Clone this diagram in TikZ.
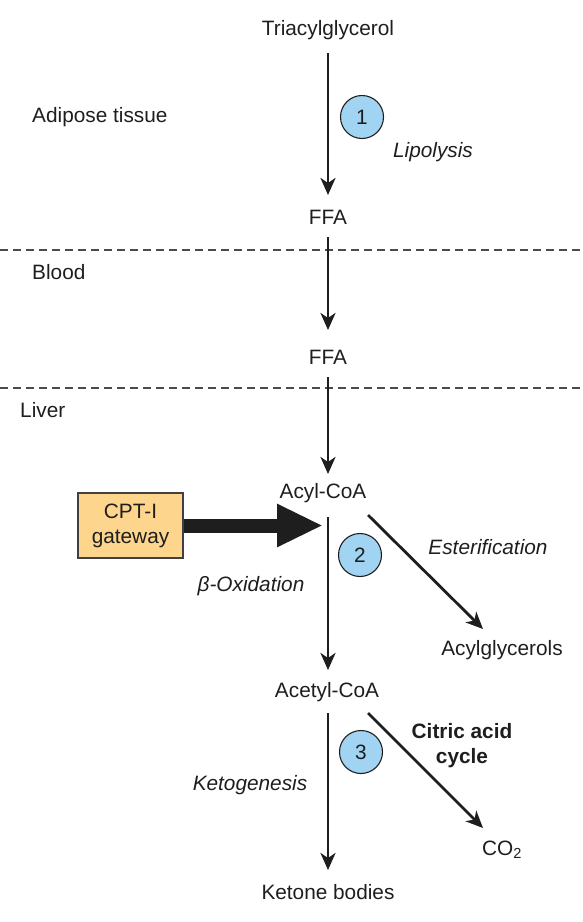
\documentclass[tikz,border=0pt]{standalone}
\usepackage{fontspec}
\setmainfont{Liberation Sans}
\usetikzlibrary{arrows.meta}
\definecolor{circblue}{RGB}{160,212,242}
\definecolor{boxorange}{RGB}{253,213,140}
\definecolor{ink}{RGB}{30,30,30}
\tikzset{
  lbl/.style={font=\fontsize{20.8}{25}\selectfont, inner sep=0pt, text=ink},
  proc/.style={font=\fontsize{20.8}{25}\selectfont\itshape, inner sep=0pt, text=ink},
  num/.style={circle, draw=ink, line width=1.1pt, fill=circblue, minimum size=43pt, inner sep=0pt, font=\fontsize{20.8}{25}\selectfont, text=ink},
  arr/.style={draw=ink, line width=2.8pt, -{Stealth[length=17pt,width=15pt,inset=5pt]}},
  divider/.style={draw=ink!80, line width=1.4pt, dash pattern=on 8pt off 5pt},
  gatebox/.style={draw=ink!85, line width=1.3pt, fill=boxorange, minimum width=105pt, minimum height=65pt, align=center, font=\fontsize{20.8}{25}\selectfont, text=ink, inner sep=0pt}
}
\begin{document}
\begin{tikzpicture}[x=1pt,y=-1pt]
\useasboundingbox (0,0) rectangle (582,922);
% dividers
\coordinate (d1l) at (0,250); \coordinate (d1r) at (582,250);
\coordinate (d2l) at (0,388); \coordinate (d2r) at (582,388);
\draw[divider] (d1l) -- (d1r);
\draw[divider] (d2l) -- (d2r);
% compartment labels
\node[lbl, anchor=west] (adipose) at (32,117) {Adipose tissue};
\node[lbl, anchor=west] (blood) at (32,272) {Blood};
\node[lbl, anchor=west] (liver) at (20,410) {Liver};
% metabolites
\node[lbl] (tg) at (328,30) {Triacylglycerol};
\node[lbl] (ffa1) at (328,217) {FFA};
\node[lbl] (ffa2) at (328,357) {FFA};
\node[lbl] (acyl) at (323,493) {Acyl-CoA};
\node[lbl] (acetyl) at (327,692) {Acetyl-CoA};
\node[lbl] (ketone) at (328,892) {Ketone bodies};
\node[lbl] (acylgly) at (502,650) {Acylglycerols};
\node[lbl] (co2) at (502,850) {CO\textsubscript{2}};
% process labels
\node[proc] (lipol) at (433,152) {Lipolysis};
\node[proc] (ester) at (488,547) {Esterification};
\node[proc] (betaox) at (251,586) {β-Oxidation};
\node[proc] (ketog) at (250,785) {Ketogenesis};
\node[lbl, font=\fontsize{20.8}{25}\selectfont\bfseries, align=center] (citric) at (462,746) {Citric acid\\cycle};
% numbered circles
\node[num] (n1) at (362,117) {1};
\node[num] (n2) at (360,555) {2};
\node[num] (n3) at (361,752) {3};
% CPT-I gateway
\node[gatebox] (cpt) at (130.5,525.5) {CPT-I\\gateway};
% axis points on the main vertical line
\path (acyl.center -| tg.center) coordinate (acylc);
\path (acetyl.center -| tg.center) coordinate (acetylc);
% vertical arrows
\draw[arr] ([yshift=-23pt]tg.center) -- ([yshift=22pt]ffa1.center);
\draw[arr] ([yshift=-20pt]ffa1.center) -- ([yshift=27pt]ffa2.center);
\draw[arr] ([yshift=-20pt]ffa2.center) -- ([yshift=19pt]acylc);
\draw[arr] ([yshift=-24pt]acylc) -- ([yshift=22pt]acetylc);
\draw[arr] ([yshift=-21pt]acetylc) -- ([yshift=22pt]ketone.center);
% diagonal arrows
\draw[arr] ([xshift=45pt,yshift=-22pt]acyl.center) -- ([xshift=-19pt,yshift=21pt]acylgly.center);
\draw[arr] ([xshift=41pt,yshift=-21pt]acetyl.center) -- ([xshift=-19pt,yshift=22pt]co2.center);
% thick gateway arrow
\draw[draw=ink, line width=14pt, -{Triangle[length=46pt,width=40pt]}] (cpt.east) -- ([xshift=-5pt]cpt.east -| acylc);
\end{tikzpicture}
\end{document}
